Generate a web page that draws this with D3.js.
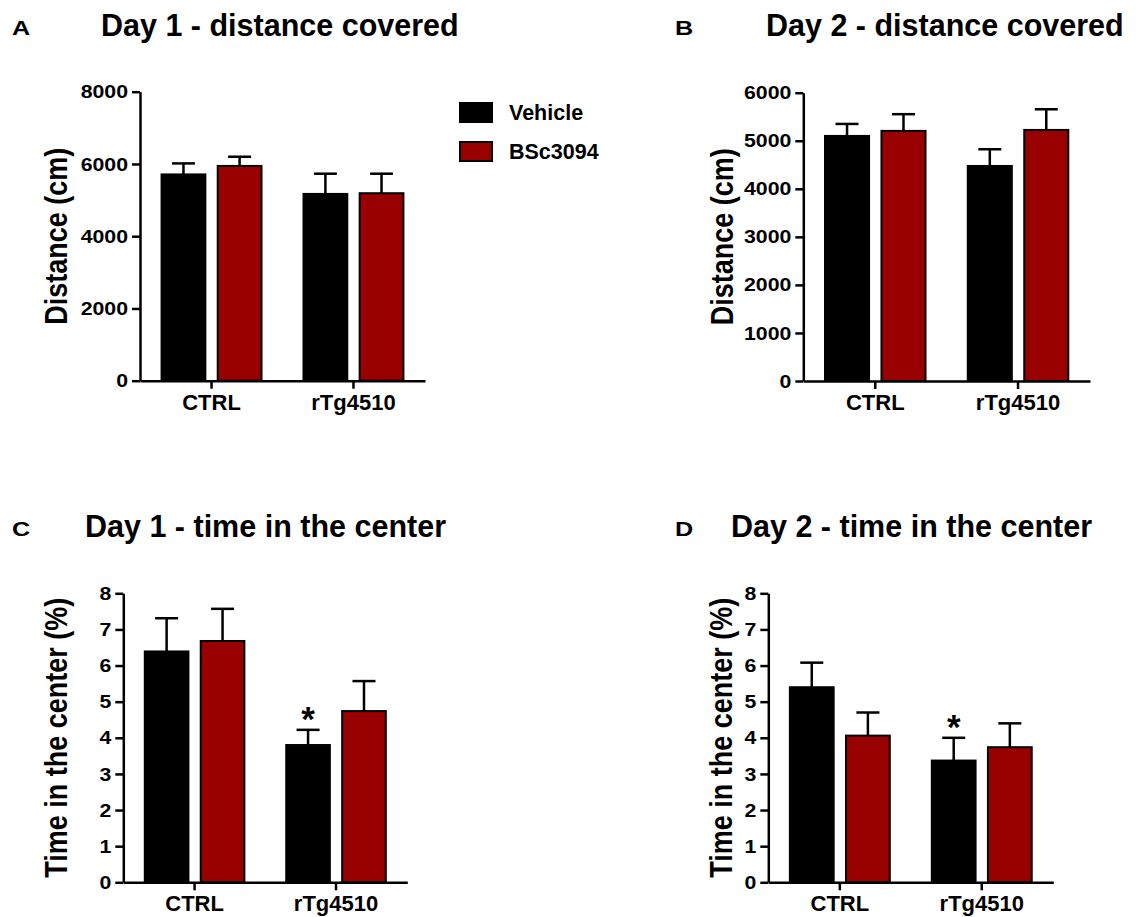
<!DOCTYPE html>
<html>
<head>
<meta charset="utf-8">
<script src="https://cdn.jsdelivr.net/npm/d3@7"></script>
<style>
  html, body { margin: 0; padding: 0; background: #fff; }
  svg { display: block; font-family: "Liberation Sans", Arial, Helvetica, sans-serif; font-weight: bold; }
</style>
</head>
<body>
<svg id="chart" width="1136" height="917"></svg>
<script>
// ---------------- DATA ----------------
const categories = ["CTRL", "rTg4510"];
const seriesNames = ["Vehicle", "BSc3094"];
const seriesColors = ["#000000", "#990000"];

// Panel A: Day 1 - distance covered (cm)
const day1DistVehicle = [5710, 5170];
const day1DistVehicleSem = [305, 560];
const day1DistBSc = [5945, 5190];
const day1DistBScSem = [255, 540];
const day1DistTicks = [0, 2000, 4000, 6000, 8000];

// Panel B: Day 2 - distance covered (cm)
const day2DistVehicle = [5100, 4475];
const day2DistVehicleSem = [250, 348];
const day2DistBSc = [5205, 5225];
const day2DistBScSem = [348, 430];
const day2DistTicks = [0, 1000, 2000, 3000, 4000, 5000, 6000];

// Panel C: Day 1 - time in the center (%)
const day1TimeVehicle = [6.39, 3.80];
const day1TimeVehicleSem = [0.92, 0.42];
const day1TimeBSc = [6.68, 4.74];
const day1TimeBScSem = [0.89, 0.83];
const day1TimeStars = [[false, false], [true, false]];

// Panel D: Day 2 - time in the center (%)
const day2TimeVehicle = [5.40, 3.37];
const day2TimeVehicleSem = [0.68, 0.63];
const day2TimeBSc = [4.06, 3.74];
const day2TimeBScSem = [0.64, 0.66];
const day2TimeStars = [[false, false], [true, false]];

const timeTicks = [0, 1, 2, 3, 4, 5, 6, 7, 8];

// ---------------- PANELS ----------------
const panels = [
  { letter: "A", title: "Day 1 - distance covered", ylabel: "Distance (cm)",
    means: [day1DistVehicle, day1DistBSc], sems: [day1DistVehicleSem, day1DistBScSem],
    ticks: day1DistTicks, stars: null,
    layout: { x0: 140, x1: 425, yTop: 91.7, yBot: 380.7, letterX: 12, titleX: 101, titleY: 36, ylabX: 67 } },
  { letter: "B", title: "Day 2 - distance covered", ylabel: "Distance (cm)",
    means: [day2DistVehicle, day2DistBSc], sems: [day2DistVehicleSem, day2DistBScSem],
    ticks: day2DistTicks, stars: null,
    layout: { x0: 803.3, x1: 1090, yTop: 92.7, yBot: 381, letterX: 675, titleX: 766, titleY: 36, ylabX: 733 } },
  { letter: "C", title: "Day 1 - time in the center", ylabel: "Time in the center (%)",
    means: [day1TimeVehicle, day1TimeBSc], sems: [day1TimeVehicleSem, day1TimeBScSem],
    ticks: timeTicks, stars: day1TimeStars,
    layout: { x0: 123.3, x1: 407.3, yTop: 593.3, yBot: 882.3, letterX: 12, titleX: 85, titleY: 537, ylabX: 67 } },
  { letter: "D", title: "Day 2 - time in the center", ylabel: "Time in the center (%)",
    means: [day2TimeVehicle, day2TimeBSc], sems: [day2TimeVehicleSem, day2TimeBScSem],
    ticks: timeTicks, stars: day2TimeStars,
    layout: { x0: 768.3, x1: 1053.3, yTop: 593.3, yBot: 882.3, letterX: 675, titleX: 731, titleY: 537, ylabX: 732 } }
];

const FONT = "Liberation Sans, Arial, sans-serif";
const svg = d3.select("#chart");
svg.append("rect").attr("width", 1136).attr("height", 917).attr("fill", "#fff");

panels.forEach(p => {
  const L = p.layout;
  const g = svg.append("g");

  const x = d3.scaleBand().domain(categories).range([L.x0, L.x1])
    .paddingInner(0.296).paddingOuter(0.152);
  const xs = d3.scaleBand().domain(seriesNames).range([0, x.bandwidth()])
    .paddingInner(0.22).paddingOuter(0);
  const y = d3.scaleLinear().domain([0, d3.max(p.ticks)]).range([L.yBot, L.yTop]);

  // titles
  g.append("text").attr("transform", `translate(${L.letterX},${L.titleY - 1}) scale(1.2,1)`)
    .attr("font-size", 21).text(p.letter);
  g.append("text").attr("x", L.titleX).attr("y", L.titleY)
    .attr("font-size", 30.5).text(p.title);

  // y label
  g.append("text")
    .attr("transform", `translate(${L.ylabX},${(L.yTop + L.yBot) / 2}) scale(1.15,1) rotate(-90)`)
    .attr("text-anchor", "middle").attr("font-size", 27).text(p.ylabel);

  // data rows
  const rows = [];
  categories.forEach((c, ci) => {
    seriesNames.forEach((s, si) => {
      rows.push({ c, s, si, mean: p.means[si][ci], sem: p.sems[si][ci],
                  star: p.stars ? p.stars[ci][si] : false });
    });
  });

  // error bars (upper only)
  const eb = g.append("g").attr("stroke", "#000").attr("stroke-width", 2.5);
  rows.forEach(r => {
    const cx = x(r.c) + xs(r.s) + xs.bandwidth() / 2;
    eb.append("line").attr("x1", cx).attr("x2", cx)
      .attr("y1", y(r.mean)).attr("y2", y(r.mean + r.sem));
    eb.append("line").attr("x1", cx - 11.5).attr("x2", cx + 11.5)
      .attr("y1", y(r.mean + r.sem)).attr("y2", y(r.mean + r.sem));
  });

  // bars
  g.append("g").selectAll("rect").data(rows).join("rect")
    .attr("x", r => x(r.c) + xs(r.s))
    .attr("width", xs.bandwidth())
    .attr("y", r => y(r.mean))
    .attr("height", r => y(0) - y(r.mean))
    .attr("fill", r => seriesColors[r.si])
    .attr("stroke", "#000").attr("stroke-width", 2);

  // stars
  rows.filter(r => r.star).forEach(r => {
    const cx = x(r.c) + xs(r.s) + xs.bandwidth() / 2;
    g.append("text").attr("x", cx).attr("y", y(r.mean + r.sem) + 1)
      .attr("text-anchor", "middle").attr("font-size", 35).text("*");
  });

  // axes
  const yAxis = d3.axisLeft(y).tickValues(p.ticks).tickSize(8).tickSizeOuter(0).tickPadding(4)
    .tickFormat(d3.format("d"));
  const ya = g.append("g").attr("transform", `translate(${L.x0},0)`).call(yAxis);
  ya.selectAll(".tick text").each(function () {
    const t = d3.select(this);
    const tx = +t.attr("x");
    t.attr("x", 0).attr("transform", `translate(${tx},0) scale(1.12,1)`);
  }).attr("font-size", 19).attr("font-family", FONT)
    .attr("font-weight", "bold").attr("fill", "#000");

  const xAxis = d3.axisBottom(x).tickSize(8).tickSizeOuter(0).tickPadding(5.5);
  const xa = g.append("g").attr("transform", `translate(0,${L.yBot})`).call(xAxis);
  xa.selectAll("text").attr("font-size", 22).attr("font-family", FONT)
    .attr("font-weight", "bold").attr("fill", "#000");

  [ya, xa].forEach(a => {
    a.select(".domain").attr("stroke", "#000").attr("stroke-width", 2.5);
    a.selectAll(".tick line").attr("stroke", "#000").attr("stroke-width", 2.5);
  });
});

// legend
const legend = svg.append("g");
seriesNames.forEach((s, i) => {
  legend.append("rect").attr("x", 460).attr("y", 103 + i * 39)
    .attr("width", 32).attr("height", 19)
    .attr("fill", seriesColors[i]).attr("stroke", "#000").attr("stroke-width", 2);
  legend.append("text").attr("x", 509).attr("y", 120 + i * 39)
    .attr("font-size", 21.5).text(s);
});
</script>
</body>
</html>
